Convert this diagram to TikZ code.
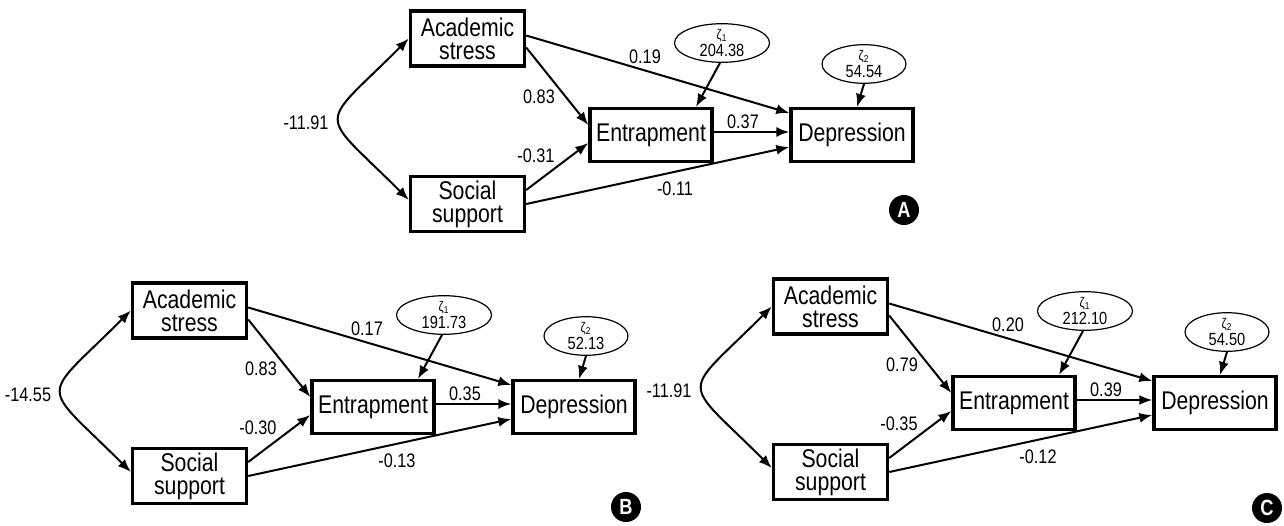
\documentclass[tikz,border=0pt]{standalone}
\usepackage{fontspec}
\setmainfont{Liberation Sans}[FakeStretch=0.83]
\usetikzlibrary{arrows.meta,shapes.geometric}

\begin{document}
\begin{tikzpicture}[
    x=0.5pt, y=-0.5pt,
    var/.style={draw, line width=1.7pt, minimum width=57pt, minimum height=27.4pt,
      inner sep=0pt, align=center, font=\fontsize{12.8}{11.5}\selectfont},
    outcome/.style={var, minimum width=61pt, minimum height=26.4pt},
    resid/.style={draw, ellipse, line width=0.6pt, inner sep=0pt, minimum height=18.5pt,
      align=center, font=\fontsize{8.8}{8.5}\selectfont},
    effect/.style={line width=1pt, -{Latex[length=6.5pt,width=5pt]}},
    covar/.style={line width=1pt, {Latex[length=6.5pt,width=5pt]}-{Latex[length=6.5pt,width=5pt]}},
    coef/.style={inner sep=0pt, font=\fontsize{9.8}{10}\selectfont},
    badge/.style={circle, fill=black, text=white, minimum size=15pt, inner sep=0pt,
      font=\bfseries\fontsize{11}{11}\selectfont}
  ]

  \useasboundingbox (0,0) rectangle (1284,525);

  % one panel per model: shift, badge height, letter, estimates
  \foreach \sx/\sy/\by/\letter/\ccov/\cae/\cse/\cad/\ced/\csd/\zone/\ztwo in {
      0/0/210/A/-11.91/0.83/-0.31/0.19/0.37/-0.11/204.38/54.54,
      -278/272/235/B/-14.55/0.83/-0.30/0.17/0.35/-0.13/191.73/52.13,
      363/268/240/C/-11.91/0.79/-0.35/0.20/0.39/-0.12/212.10/54.50}{
  \begin{scope}[shift={(\sx,\sy)}]
    % Observed variables
    \node[var] (as) at (467.5,38.5) {Academic\\stress};
    \node[var] (ss) at (467.5,204) {Social\\support};
    \node[outcome] (en) at (651,135) {Entrapment};
    \node[outcome] (de) at (852,135) {Depression};

    % Disturbances
    \node[resid, minimum width=47.5pt] (z1) at (722,43)
      {{\fontsize{7}{6}\selectfont ζ\textsubscript{1}}\\\zone};
    \node[resid, minimum width=42pt] (z2) at (864,64)
      {{\fontsize{7}{6}\selectfont ζ\textsubscript{2}}\\\ztwo};

    % Paths
    \draw[covar] (as.west) .. controls +(-92,92) and +(-92,-92) .. ([yshift=2pt]ss.west);
    \draw[effect] ([yshift=1.5pt]as.east) -- ([yshift=11pt]de.west);
    \draw[effect] ([yshift=-4.5pt]as.east) -- ([yshift=5pt]en.west);
    \draw[effect] ([yshift=7pt]ss.east) -- ([yshift=-4pt]en.west);
    \draw[effect] (ss.east) -- ([yshift=-6pt]de.west);
    \draw[effect] ([yshift=1.5pt]en.east) -- ([yshift=1.5pt]de.west);
    \draw[effect] ([xshift=-1pt]z1.south) -- ([xshift=22.5pt]en.north);
    \draw[effect] (z2.south) -- ([xshift=2.5pt]de.north);

    % Estimates
    \node[coef] (lcv) at (306,123) {\ccov};
    \node[coef] (lae) at (539,97) {\cae};
    \node[coef] (lse) at (536,156) {\cse};
    \node[coef] (lad) at (645,57) {\cad};
    \node[coef] (led) at (743,122) {\ced};
    \node[coef] (lsd) at (675,189) {\csd};

    \node[badge] (tag) at (904,\by) {\letter};
  \end{scope}}

\end{tikzpicture}
\end{document}
